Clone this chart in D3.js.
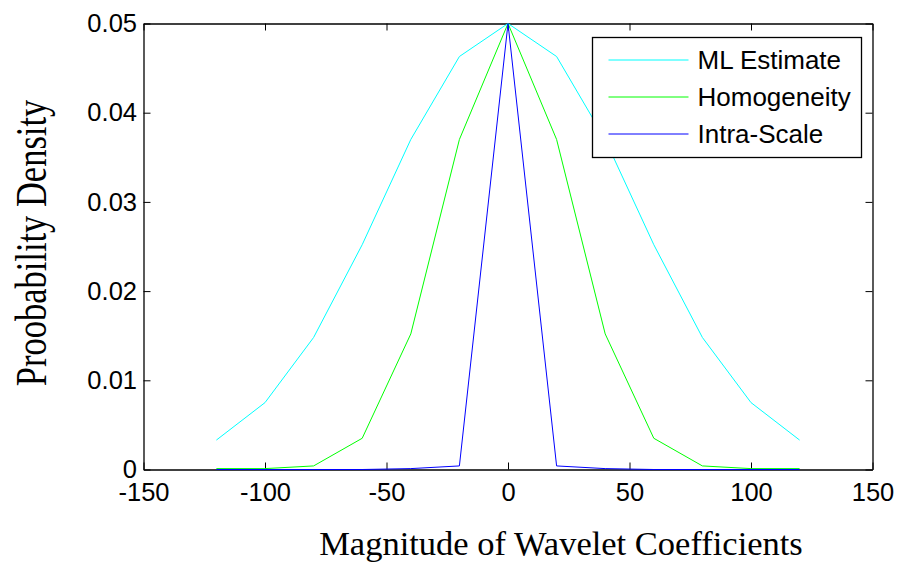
<!DOCTYPE html>
<html>
<head>
<meta charset="utf-8">
<script src="https://cdn.jsdelivr.net/npm/d3@7"></script>
<style>
  body { margin: 0; background: #fff; }
  svg { display: block; }
  .tick text { font-family: "Liberation Sans", Arial, sans-serif; font-size: 25.5px; fill: #000; }
  .lbl { font-family: "Liberation Serif", "Times New Roman", serif; font-size: 34.5px; fill: #000; }
  .leg { font-family: "Liberation Sans", Arial, sans-serif; font-size: 26px; fill: #000; }
</style>
</head>
<body>
<div id="chart"></div>
<script>
// coefficient magnitudes
var xs = [-120, -100, -80, -60, -40, -20, 0, 20, 40, 60, 80, 100, 120];
// probability densities
var mlEstimate  = [0.0033, 0.0075, 0.0148, 0.0252, 0.0370, 0.0463, 0.0500, 0.0463, 0.0370, 0.0252, 0.0148, 0.0075, 0.0033];
var homogeneity = [0.0001, 0.0001, 0.0004, 0.0035, 0.0152, 0.0370, 0.0500, 0.0370, 0.0152, 0.0035, 0.0004, 0.0001, 0.0001];
var intraScale  = [0.0000, 0.0000, 0.0000, 0.0000, 0.0001, 0.0004, 0.0500, 0.0004, 0.0001, 0.0000, 0.0000, 0.0000, 0.0000];
var seriesNames = ["ML Estimate", "Homogeneity", "Intra-Scale"];
var xTicks = [-150, -100, -50, 0, 50, 100, 150];
var yTicks = [0, 0.01, 0.02, 0.03, 0.04, 0.05];

var W = 900, H = 565;
var m = { left: 143.5, right: 872.5, top: 23.5, bottom: 469.5 };

var svg = d3.select("#chart").append("svg").attr("width", W).attr("height", H);

var x = d3.scaleLinear().domain([-150, 150]).range([m.left, m.right]);
var y = d3.scaleLinear().domain([0, 0.05]).range([m.bottom, m.top]);

var fmtX = function(d) { return String(d); };   // plain hyphen, not unicode minus
var fmtY = function(d) { return d === 0 ? "0" : d3.format(".2f")(d); };

// axes, ticks pointing inwards like matlab
svg.append("g").attr("transform", "translate(0," + m.bottom + ")")
  .call(d3.axisBottom(x).tickValues(xTicks).tickSizeInner(-7).tickSizeOuter(0).tickPadding(13).tickFormat(fmtX));
svg.append("g").attr("transform", "translate(0," + m.top + ")")
  .call(d3.axisTop(x).tickValues(xTicks).tickSizeInner(-7).tickSizeOuter(0).tickFormat(""));
svg.append("g").attr("transform", "translate(" + m.left + ",0)")
  .call(d3.axisLeft(y).tickValues(yTicks).tickSizeInner(-7).tickSizeOuter(0).tickPadding(6.5).tickFormat(fmtY));
svg.append("g").attr("transform", "translate(" + m.right + ",0)")
  .call(d3.axisRight(y).tickValues(yTicks).tickSizeInner(-7).tickSizeOuter(0).tickFormat(""));
svg.selectAll(".domain").attr("stroke", "#000").attr("stroke-width", 1.3);
svg.selectAll(".tick line").attr("stroke", "#000");

var lines = [
  { name: seriesNames[0], vals: mlEstimate, col: "#00ffff" },
  { name: seriesNames[1], vals: homogeneity, col: "#00ff00" },
  { name: seriesNames[2], vals: intraScale, col: "#0000ff" }
];

var line = d3.line().x(function(d, i) { return x(xs[i]); }).y(function(d) { return y(d); });

svg.append("g").selectAll("path").data(lines).enter().append("path")
  .attr("d", function(s) { return line(s.vals); })
  .attr("fill", "none")
  .attr("stroke", function(s) { return s.col; })
  .attr("stroke-width", 1);

// legend
var lg = svg.append("g").attr("transform", "translate(592.5,37.5)");
lg.append("rect").attr("width", 269).attr("height", 120)
  .attr("fill", "#fff").attr("stroke", "#000").attr("stroke-width", 1.3);
var row = lg.selectAll(".row").data(lines).enter().append("g")
  .attr("transform", function(d, i) { return "translate(0," + (22.5 + i * 37) + ")"; });
row.append("line").attr("x1", 16).attr("x2", 96)
  .attr("stroke", function(d) { return d.col; }).attr("stroke-width", 1);
row.append("text").attr("class", "leg").attr("x", 105).attr("dy", "0.36em").text(function(d) { return d.name; });

// axis titles (the y title is spelled as in the original figure)
svg.append("text").attr("class", "lbl").attr("x", 561).attr("y", 555)
  .attr("text-anchor", "middle").text("Magnitude of Wavelet Coefficients");
svg.append("text").attr("class", "lbl")
  .attr("transform", "translate(46,243) rotate(-90) scale(1,1.3)")
  .attr("text-anchor", "middle").text("Proobability Density");
</script>
</body>
</html>
